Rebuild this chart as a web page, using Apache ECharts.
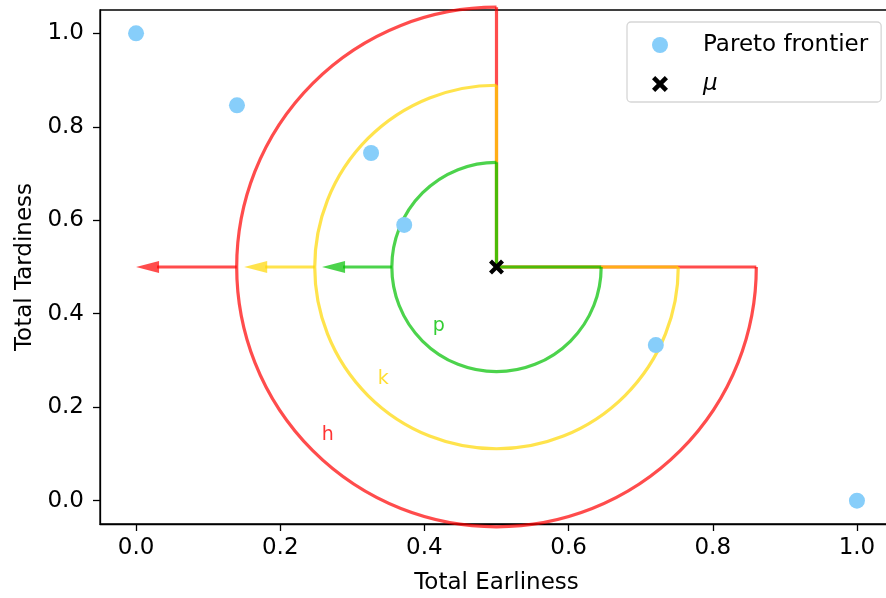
<!DOCTYPE html>
<html>
<head>
<meta charset="utf-8">
<script src="https://cdn.jsdelivr.net/npm/echarts@6/dist/echarts.min.js"></script>
<style>
  html, body { margin: 0; padding: 0; background: #fff; }
  #chart { width: 886px; height: 598px; }
</style>
</head>
<body>
<div id="chart"></div>
<script>
// Pareto frontier points [earliness, tardiness]
const paretoPoints = [
  [0.0, 1.0],
  [0.14, 0.846],
  [0.326, 0.744],
  [0.372, 0.59],
  [0.721, 0.333],
  [1.0, 0.0],
];
const muPoint = [[0.5, 0.5]];

// rings drawn around mu: radius (y units), arrow tip x, label position
const ringNames = ['h', 'k', 'p'];
const ringColors = ['#ff0000', '#ffd700', '#00c000'];
const ringRadius = [0.556, 0.389, 0.224];
const arrowTipX = [0.0, 0.15, 0.258];
const labelPos = [[0.266, 0.141], [0.343, 0.261], [0.42, 0.374]];

const tickValues = [0, 0.2, 0.4, 0.6, 0.8, 1.0];
const FONT = 'DejaVu Sans';

const crossPath = 'path://M0,4 L4,0 L10,6 L16,0 L20,4 L14,10 L20,16 L16,20 L10,14 L4,20 L0,16 L6,10 Z';

const chart = echarts.init(document.getElementById('chart'));

const ringData = ringNames.map((n, i) => [muPoint[0][0], muPoint[0][1], ringRadius[i], arrowTipX[i], i]);

function renderRing(params, api) {
  const c = api.coord([api.value(0), api.value(1)]);
  const r = api.size([0, api.value(2)])[1];
  const tip = api.coord([api.value(3), api.value(1)]);
  const color = ringColors[api.value(4)];
  const style = { stroke: color, lineWidth: 3.2, fill: null, opacity: 0.7 };
  const head = 23;
  return {
    type: 'group',
    children: [
      {
        type: 'arc',
        shape: { cx: c[0], cy: c[1], r: r, startAngle: 0, endAngle: Math.PI * 1.5, clockwise: true },
        style: style,
      },
      {
        type: 'polyline',
        shape: { points: [[c[0], c[1] - r], [c[0], c[1]], [c[0] + r, c[1]]] },
        style: style,
      },
      {
        type: 'line',
        shape: { x1: c[0] - r, y1: c[1], x2: tip[0] + head - 2, y2: c[1] },
        style: style,
      },
      {
        type: 'polygon',
        shape: { points: [[tip[0], c[1]], [tip[0] + head, c[1] - 6], [tip[0] + head, c[1] + 6]] },
        style: { fill: color, opacity: 0.7 },
      },
    ],
  };
}

const option = {
  animation: false,
  textStyle: { fontFamily: FONT },
  grid: {
    left: 100, width: 793, top: 10, bottom: 74,
    outerBoundsMode: 'none',
    containLabel: false,
    show: true, borderColor: '#000', borderWidth: 1.3, backgroundColor: 'transparent',
  },
  legend: {
    orient: 'vertical',
    left: 627,
    top: 22,
    padding: [10, 13, 5, 25],
    itemWidth: 40,
    itemHeight: 16,
    itemGap: 13,
    backgroundColor: '#fff',
    borderColor: '#d6d6d6',
    borderWidth: 1.3,
    borderRadius: 4,
    textStyle: { fontFamily: FONT, fontSize: 23, lineHeight: 26, color: '#000', padding: [0, 0, 0, 18] },
    data: [
      { name: 'Pareto frontier' },
      { name: 'μ', textStyle: { fontStyle: 'italic' } },
    ],
  },
  xAxis: {
    type: 'value',
    min: -0.05,
    max: 1.05,
    name: 'Total Earliness',
    nameLocation: 'middle',
    nameGap: 48,
    nameTextStyle: { fontFamily: FONT, fontSize: 23, color: '#000' },
    axisLine: { show: true, onZero: false, lineStyle: { color: '#000', width: 1.3 } },
    axisTick: { show: true, length: 7, lineStyle: { color: '#000', width: 1.3 }, customValues: tickValues },
    axisLabel: {
      fontFamily: FONT, fontSize: 23, color: '#000', margin: 13,
      customValues: tickValues,
      formatter: v => v.toFixed(1),
    },
    splitLine: { show: false },
  },
  yAxis: {
    type: 'value',
    min: -0.05,
    max: 1.05,
    name: 'Total Tardiness',
    nameLocation: 'middle',
    nameGap: 62,
    nameTextStyle: { fontFamily: FONT, fontSize: 23, color: '#000' },
    axisLine: { show: true, onZero: false, lineStyle: { color: '#000', width: 1.3 } },
    axisTick: { show: true, length: 7, lineStyle: { color: '#000', width: 1.3 }, customValues: tickValues },
    axisLabel: {
      fontFamily: FONT, fontSize: 23, color: '#000', margin: 16,
      customValues: tickValues,
      formatter: v => v.toFixed(1),
    },
    splitLine: { show: false },
  },
  series: [
    {
      name: 'rings',
      type: 'custom',
      renderItem: renderRing,
      data: ringData,
      clip: false,
      silent: true,
      z: 2,
    },
    {
      name: 'labels',
      type: 'scatter',
      data: labelPos.map((p, i) => ({
        value: p,
        label: { show: true, formatter: ringNames[i], color: ringColors[i] },
      })),
      symbolSize: 0,
      label: { position: 'inside', fontFamily: FONT, fontSize: 19 },
      silent: true,
      z: 3,
    },
    {
      name: 'Pareto frontier',
      type: 'scatter',
      data: paretoPoints,
      symbol: 'circle',
      symbolSize: 16,
      itemStyle: { color: '#87cefa', opacity: 1 },
      z: 4,
    },
    {
      name: 'μ',
      type: 'scatter',
      data: muPoint,
      symbol: crossPath,
      symbolSize: 15,
      itemStyle: { color: '#000', opacity: 1 },
      z: 5,
    },
  ],
};

chart.setOption(option);
</script>
</body>
</html>
